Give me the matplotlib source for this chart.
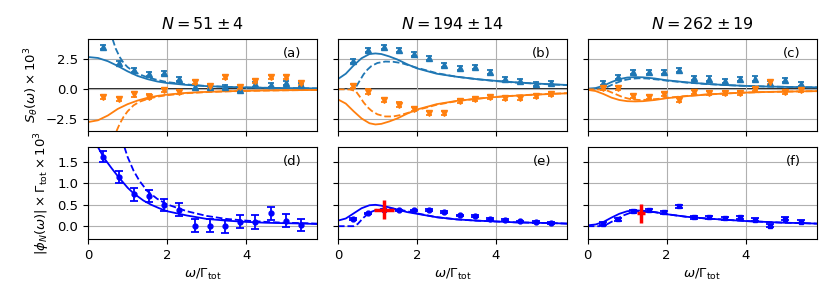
import matplotlib
matplotlib.use("Agg")
import matplotlib.pyplot as plt
import numpy as np

plt.rcParams['font.size'] = 9.5
plt.rcParams['mathtext.fontset'] = 'dejavusans'

# measured frequencies omega / Gamma_tot
w = [0.385, 0.77, 1.155, 1.54, 1.925, 2.31, 2.695, 3.08, 3.465, 3.85, 4.235, 4.62, 5.005, 5.39]

titles = [r'$N = 51 \pm 4$', r'$N = 194 \pm 14$', r'$N = 262 \pm 19$']

# ---- top row: S_theta data (blue = +, orange = -)
Sp_a = [3.55, 2.22, 1.6, 1.27, 1.35, 0.88, 0.2, 0.2, 0.15, -0.1, 0.4, 0.35, 0.55, 0.35]
Sm_a = [-0.68, -0.82, -0.44, -0.61, -0.05, -0.22, 0.59, 0.28, 1.0, 0.18, 0.66, 1.06, 1.02, 0.55]
Sp_b = [2.33, 3.25, 3.55, 3.27, 2.97, 2.58, 2.0, 1.8, 1.88, 1.48, 0.89, 0.72, 0.47, 0.52]
Sm_b = [0.3, -0.19, -0.9, -1.28, -1.62, -2.02, -2.0, -1.0, -0.84, -0.67, -0.76, -0.7, -0.56, -0.39]
Sp_c = [0.52, 1.0, 1.48, 1.48, 1.48, 1.65, 0.95, 0.9, 0.72, 0.85, 0.9, 0.5, 0.8, 0.45]
Sm_c = [0.14, 0.1, -0.58, -0.66, -0.42, -0.92, -0.22, -0.35, -0.32, -0.28, 0.0, 0.6, -0.22, -0.08]
S_err = [0.17] * 14

# ---- top row: model curves
xa_s = [0, 0.25, 0.5, 0.75, 1.0, 1.25, 1.5, 1.75, 2.0, 2.5, 3.0, 3.5, 4.0, 4.5, 5.0, 5.5, 5.8]
pa_s = [2.7, 2.62, 2.35, 1.95, 1.5, 1.12, 0.85, 0.65, 0.52, 0.36, 0.26, 0.2, 0.15, 0.12, 0.1, 0.08, 0.07]
ma_s = [-2.75, -2.6, -2.2, -1.65, -1.25, -0.95, -0.72, -0.56, -0.45, -0.3, -0.22, -0.17, -0.13, -0.1, -0.08, -0.07, -0.06]
xa_pd = [0.62, 0.7, 0.8, 0.9, 1.0, 1.15, 1.3, 1.5, 1.75, 2.0, 2.5, 3.0, 3.5, 4.0, 4.5, 5.0, 5.5, 5.8]
pa_d = [4.2, 3.4, 2.7, 2.2, 1.85, 1.5, 1.25, 1.0, 0.78, 0.6, 0.4, 0.27, 0.2, 0.15, 0.12, 0.1, 0.08, 0.07]
xa_md = [0.72, 0.8, 0.9, 1.0, 1.15, 1.3, 1.5, 1.75, 2.0, 2.5, 3.0, 3.5, 4.0, 4.5, 5.0, 5.5, 5.8]
ma_d = [-3.5, -2.9, -2.3, -1.85, -1.35, -1.05, -0.82, -0.62, -0.5, -0.33, -0.24, -0.18, -0.14, -0.11, -0.09, -0.07, -0.06]

xb_s = [0, 0.2, 0.4, 0.6, 0.8, 0.95, 1.1, 1.3, 1.5, 1.75, 2.0, 2.5, 3.0, 3.5, 4.0, 4.5, 5.0, 5.5, 5.8]
pb_s = [0.85, 1.3, 2.0, 2.6, 2.95, 3.0, 2.95, 2.75, 2.5, 2.1, 1.75, 1.3, 1.05, 0.85, 0.7, 0.58, 0.48, 0.4, 0.36]
mb_s = [-0.85, -1.2, -1.85, -2.45, -2.85, -2.95, -2.9, -2.7, -2.45, -2.05, -1.7, -1.25, -0.98, -0.8, -0.65, -0.54, -0.45, -0.38, -0.34]
xb_d = [0, 0.3, 0.45, 0.55, 0.65, 0.75, 0.85, 1.0, 1.2, 1.4, 1.6, 1.8, 2.0, 2.5, 3.0, 3.5, 4.0, 4.5, 5.0, 5.5, 5.8]
pb_d = [0, 0.02, 0.15, 0.7, 1.25, 1.65, 1.95, 2.2, 2.32, 2.3, 2.2, 2.0, 1.8, 1.35, 1.05, 0.85, 0.68, 0.56, 0.47, 0.39, 0.35]
mb_d = [0, -0.02, -0.15, -0.6, -1.1, -1.5, -1.8, -2.1, -2.28, -2.28, -2.15, -1.95, -1.75, -1.3, -1.0, -0.8, -0.64, -0.53, -0.44, -0.37, -0.33]

xc_s = [0, 0.2, 0.4, 0.6, 0.8, 1.0, 1.2, 1.4, 1.7, 2.0, 2.5, 3.0, 3.5, 4.0, 4.5, 5.0, 5.5, 5.8]
pc_s = [0.05, 0.1, 0.3, 0.6, 0.85, 0.98, 1.02, 1.0, 0.9, 0.75, 0.58, 0.45, 0.35, 0.28, 0.23, 0.2, 0.17, 0.16]
mc_s = [-0.05, -0.15, -0.4, -0.7, -0.9, -1.0, -1.02, -1.0, -0.9, -0.75, -0.58, -0.45, -0.35, -0.28, -0.23, -0.2, -0.17, -0.16]
xc_d = [0, 0.3, 0.5, 0.7, 0.9, 1.1, 1.3, 1.5, 1.8, 2.0, 2.5, 3.0, 3.5, 4.0, 4.5, 5.0, 5.5, 5.8]
pc_d = [0, 0.02, 0.2, 0.5, 0.75, 0.88, 0.92, 0.9, 0.8, 0.72, 0.56, 0.44, 0.35, 0.28, 0.23, 0.2, 0.17, 0.16]
mc_d = [0, -0.03, -0.12, -0.4, -0.68, -0.84, -0.9, -0.88, -0.8, -0.72, -0.56, -0.44, -0.35, -0.28, -0.23, -0.2, -0.17, -0.16]

# ---- bottom row: |phi_N| data
phi_d = [1.62, 1.15, 0.75, 0.71, 0.49, 0.39, 0.01, 0.01, 0.0, 0.1, 0.1, 0.3, 0.13, 0.03]
phi_d_err = [0.13, 0.14, 0.15, 0.14, 0.14, 0.16, 0.15, 0.15, 0.15, 0.15, 0.16, 0.16, 0.15, 0.14]
phi_e = [0.16, 0.3, 0.37, 0.37, 0.37, 0.38, 0.33, 0.25, 0.23, 0.16, 0.14, 0.11, 0.09, 0.07]
phi_e_err = [0.02] * 14
phi_f = [0.055, 0.16, 0.345, 0.375, 0.33, 0.47, 0.21, 0.21, 0.185, 0.21, 0.155, 0.015, 0.175, 0.105]
phi_f_err = [0.035] * 14

xd_s = [0.25, 0.4, 0.6, 0.77, 1.0, 1.15, 1.4, 1.6, 1.8, 2.0, 2.5, 3.0, 3.5, 4.0, 4.5, 5.0, 5.5, 5.8]
yd_s = [1.85, 1.6, 1.35, 1.15, 0.9, 0.77, 0.6, 0.5, 0.42, 0.35, 0.25, 0.17, 0.13, 0.1, 0.08, 0.07, 0.06, 0.05]
xd_d = [0.92, 1.0, 1.15, 1.3, 1.5, 1.75, 2.0, 2.5, 3.0, 3.5, 4.0, 4.5, 5.0, 5.5, 5.8]
yd_d = [1.85, 1.62, 1.3, 1.06, 0.82, 0.64, 0.51, 0.35, 0.24, 0.17, 0.13, 0.1, 0.08, 0.07, 0.06]
xe_s = [0, 0.2, 0.4, 0.6, 0.8, 0.95, 1.1, 1.3, 1.5, 1.75, 2.0, 2.5, 3.0, 3.5, 4.0, 4.5, 5.0, 5.5, 5.8]
ye_s = [0.13, 0.18, 0.3, 0.42, 0.49, 0.5, 0.48, 0.44, 0.39, 0.33, 0.29, 0.21, 0.16, 0.13, 0.11, 0.09, 0.08, 0.07, 0.06]
xe_d = [0, 0.4, 0.5, 0.65, 0.8, 1.0, 1.2, 1.4, 1.6, 1.8, 2.0, 2.5, 3.0, 3.5, 4.0, 4.5, 5.0, 5.5, 5.8]
ye_d = [0, 0.0, 0.05, 0.2, 0.32, 0.39, 0.42, 0.41, 0.38, 0.34, 0.3, 0.21, 0.16, 0.13, 0.11, 0.09, 0.08, 0.07, 0.06]
xf_s = [0, 0.2, 0.4, 0.6, 0.8, 1.0, 1.2, 1.4, 1.7, 2.0, 2.5, 3.0, 3.5, 4.0, 4.5, 5.0, 5.5, 5.8]
yf_s = [0.02, 0.04, 0.1, 0.2, 0.29, 0.35, 0.37, 0.36, 0.33, 0.28, 0.22, 0.18, 0.15, 0.12, 0.1, 0.08, 0.07, 0.06]
xf_d = [0, 0.3, 0.5, 0.7, 0.9, 1.1, 1.3, 1.5, 1.75, 2.0, 2.5, 3.0, 3.5, 4.0, 4.5, 5.0, 5.5, 5.8]
yf_d = [0, 0.0, 0.05, 0.15, 0.25, 0.32, 0.35, 0.35, 0.32, 0.28, 0.22, 0.18, 0.15, 0.12, 0.1, 0.08, 0.07, 0.06]

# red crosses (peak estimate with uncertainty): x, y, xerr, yerr
peak_e = [1.17, 0.39, 0.25, 0.23]
peak_f = [1.35, 0.3, 0.1, 0.23]

top_data = [(Sp_a, Sm_a), (Sp_b, Sm_b), (Sp_c, Sm_c)]
top_curves = [
    (xa_s, pa_s, ma_s, xa_pd, pa_d, xa_md, ma_d),
    (xb_s, pb_s, mb_s, xb_d, pb_d, xb_d, mb_d),
    (xc_s, pc_s, mc_s, xc_d, pc_d, xc_d, mc_d),
]
bot_data = [(phi_d, phi_d_err, 'o'), (phi_e, phi_e_err, 'o'), (phi_f, phi_f_err, 's')]
bot_curves = [(xd_s, yd_s, xd_d, yd_d), (xe_s, ye_s, xe_d, ye_d), (xf_s, yf_s, xf_d, yf_d)]
peaks = [None, peak_e, peak_f]

c1 = '#1f77b4'
c2 = '#ff7f0e'

fig, axs = plt.subplots(2, 3, figsize=(8.31, 3.08), dpi=100, sharex=True)
fig.subplots_adjust(left=0.106, right=0.983, top=0.873, bottom=0.224, wspace=0.09, hspace=0.175)

for i in range(3):
    ax = axs[0, i]
    ax.grid(True, color='#b0b0b0', lw=0.8)
    ax.axhline(0, color='k', lw=1.2, zorder=1)
    xs, ps, ms, xpd, pd_, xmd, md_ = top_curves[i]
    ax.plot(xs, ps, color=c1, lw=1.3)
    ax.plot(xpd, pd_, color=c1, lw=1.3, ls='--')
    ax.plot(xs, ms, color=c2, lw=1.3)
    ax.plot(xmd, md_, color=c2, lw=1.3, ls='--')
    sp, sm = top_data[i]
    ax.errorbar(w, sp, yerr=S_err, fmt='^', color=c1, ms=4, capsize=2.5, elinewidth=1.3, capthick=1.3)
    ax.errorbar(w, sm, yerr=S_err, fmt='v', color=c2, ms=4, capsize=2.5, elinewidth=1.3, capthick=1.3)
    ax.set_ylim(-3.5, 4.2)
    ax.set_yticks([-2.5, 0.0, 2.5])
    ax.set_title(titles[i], fontsize=11.5, pad=7)
    ax.text(0.93, 0.8, '(' + 'abc'[i] + ')', transform=ax.transAxes, ha='right')
    ax.tick_params(labelbottom=False)
    if i > 0:
        ax.tick_params(labelleft=False)

    ax = axs[1, i]
    ax.grid(True, color='#b0b0b0', lw=0.8)
    xs, ys, xd, yd = bot_curves[i]
    ax.plot(xs, ys, color='blue', lw=1.3)
    ax.plot(xd, yd, color='blue', lw=1.3, ls='--')
    ph, pe, mk = bot_data[i]
    ax.errorbar(w, ph, yerr=pe, fmt=mk, color='blue', ms=3.5, capsize=3, elinewidth=1.3, capthick=1.3)
    if peaks[i] is not None:
        px, py, pxe, pye = peaks[i]
        ax.errorbar([px], [py], xerr=[pxe], yerr=[pye], color='red', lw=2.5, zorder=5)
    ax.set_ylim(-0.3, 1.85)
    ax.set_yticks([0.0, 0.5, 1.0, 1.5])
    ax.set_xlim(0, 5.8)
    ax.set_xticks([0, 2, 4])
    ax.set_xlabel(r'$\omega/\Gamma_{\rm tot}$')
    ax.text(0.93, 0.8, '(' + 'def'[i] + ')', transform=ax.transAxes, ha='right')
    if i > 0:
        ax.tick_params(labelleft=False)

axs[0, 0].set_ylabel(r'$S_\theta(\omega)\times10^3$')
axs[1, 0].set_ylabel(r'$|\phi_N(\omega)|\times\Gamma_{\rm tot}\times10^3$')

fig.savefig('out.png', dpi=100)
